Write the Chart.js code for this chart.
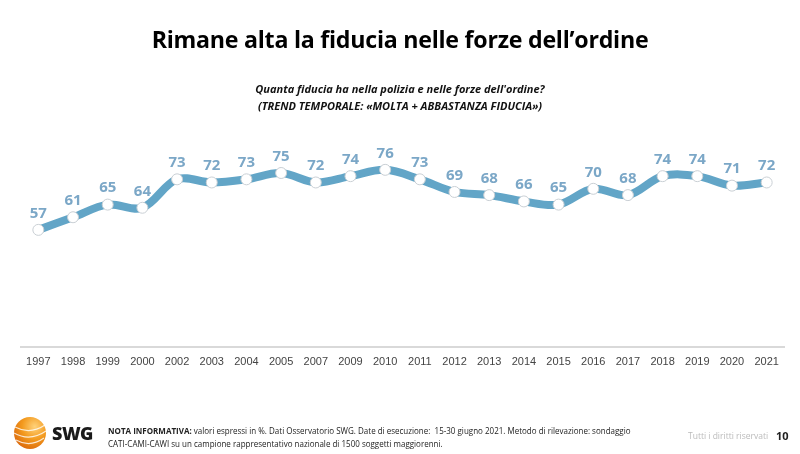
<!DOCTYPE html>
<html>
<head>
<meta charset="utf-8">
<script src="https://cdn.jsdelivr.net/npm/chart.js@4"></script>
<style>
  html, body { margin: 0; padding: 0; background: #fff; }
  body { width: 800px; height: 454px; position: relative; overflow: hidden; font-family: "Open Sans", "Liberation Sans", sans-serif; }
  #c { position: absolute; left: 0; top: 0; }
  .title { position: absolute; top: 23px; left: 0; width: 800px; text-align: center; font-size: 23.2px; font-weight: 700; color: #000; letter-spacing: -0.25px; }
  .sub { position: absolute; top: 80px; left: 0; width: 800px; text-align: center; font-size: 11px; font-weight: 700; font-style: italic; color: #111; line-height: 17px; }
  .nota { position: absolute; left: 108px; top: 424px; font-size: 9px; line-height: 13px; color: #222; white-space: nowrap; transform: scaleX(0.89); transform-origin: left top; }
  .nota b { font-weight: 700; }
  .rights { position: absolute; left: 688px; top: 430px; font-size: 8.5px; color: #bbb; }
  .page { position: absolute; left: 776px; top: 428px; font-size: 11px; font-weight: 700; color: #222; }
  .logo { position: absolute; left: 10px; top: 415px; }
  .swg { position: absolute; left: 52px; top: 421px; font-size: 18px; font-weight: 800; color: #1a1a1a; letter-spacing: -0.5px; }
</style>
</head>
<body>
<canvas id="c" width="800" height="454"></canvas>
<div class="title">Rimane alta la fiducia nelle forze dell’ordine</div>
<div class="sub">Quanta fiducia ha nella polizia e nelle forze dell'ordine?<br>(TREND TEMPORALE: «MOLTA + ABBASTANZA FIDUCIA»)</div>
<svg class="logo" width="38" height="36" viewBox="0 0 38 36">
  <defs>
    <radialGradient id="g" cx="0.65" cy="0.3" r="0.8">
      <stop offset="0" stop-color="#ffd27a"/>
      <stop offset="0.5" stop-color="#f39a1e"/>
      <stop offset="1" stop-color="#d9640a"/>
    </radialGradient>
  </defs>
  <circle cx="20" cy="18" r="16" fill="url(#g)"/>
  <path d="M5 12 Q20 20 35 10" stroke="#fff" stroke-width="1.2" fill="none" opacity="0.8"/>
  <path d="M4 18 Q20 27 36 16" stroke="#fff" stroke-width="1.2" fill="none" opacity="0.8"/>
  <path d="M6 25 Q20 33 34 23" stroke="#fff" stroke-width="1.2" fill="none" opacity="0.8"/>
</svg>
<div class="swg">SWG</div>
<div class="nota"><b>NOTA INFORMATIVA:</b> valori espressi in %. Dati Osservatorio SWG. Date di esecuzione:&nbsp; 15-30 giugno 2021. Metodo di rilevazione: sondaggio<br>CATI-CAMI-CAWI su un campione rappresentativo nazionale di 1500 soggetti maggiorenni.</div>
<div class="rights">Tutti i diritti riservati</div>
<div class="page">10</div>
<script>
const years = ['1997', '1998', '1999', '2000', '2002', '2003', '2004', '2005', '2007', '2009', '2010',
  '2011', '2012', '2013', '2014', '2015', '2016', '2017', '2018', '2019', '2020', '2021'];
const fiducia = [57, 61, 65, 64, 73, 72, 73, 75, 72, 74, 76, 73, 69, 68, 66, 65, 70, 68, 74, 74, 71, 72];
const yMin = 20;
const yMax = 100;

// value labels above each point
const valueLabels = {
  id: 'valueLabels',
  afterDatasetsDraw(chart) {
    const ctx = chart.ctx;
    const meta = chart.getDatasetMeta(0);
    ctx.save();
    ctx.fillStyle = '#7ba7c7';
    ctx.font = 'bold 15px "Open Sans", sans-serif';
    ctx.textAlign = 'center';
    ctx.textBaseline = 'bottom';
    meta.data.forEach((pt, i) => {
      ctx.fillText(fiducia[i], pt.x, pt.y - 9);
    });
    ctx.restore();
  }
};

new Chart(document.getElementById('c'), {
  type: 'line',
  data: {
    labels: years,
    datasets: [{
      data: fiducia,
      borderColor: '#62a5c7',
      borderWidth: 8,
      tension: 0.35,
      pointRadius: 5.5,
      pointBackgroundColor: '#fff',
      pointBorderColor: '#c9cfd4',
      pointBorderWidth: 1
    }]
  },
  options: {
    responsive: false,
    animation: false,
    layout: { padding: { top: 94, left: 21, right: 16, bottom: 76 } },
    plugins: { legend: { display: false }, tooltip: { enabled: false } },
    scales: {
      y: { display: false, min: yMin, max: yMax },
      x: {
        offset: true,
        grid: { display: false, drawTicks: false },
        border: { color: '#d9d9d9', width: 2 },
        ticks: { color: '#444', font: { size: 11, family: '"Liberation Sans", sans-serif' }, padding: 9, maxRotation: 0, autoSkip: false }
      }
    }
  },
  plugins: [valueLabels]
});
</script>
</body>
</html>
